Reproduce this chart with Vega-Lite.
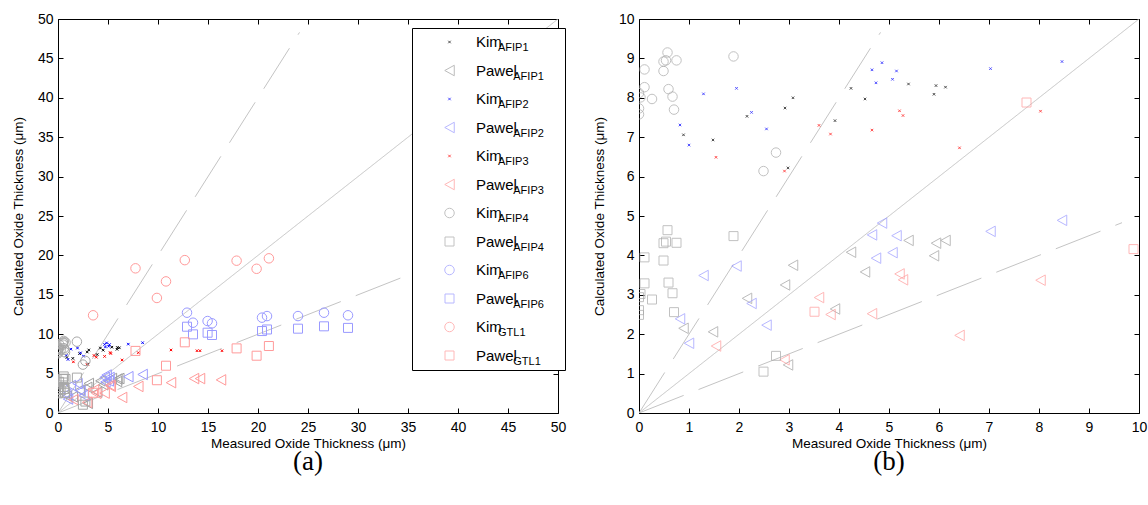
{
  "$schema": "https://vega.github.io/schema/vega-lite/v6.json",
  "padding": {"left": 11, "top": 12, "right": 5, "bottom": 5},
  "config": {
    "font": "Liberation Sans",
    "view": {"stroke": null},
    "axis": {"grid": false, "domainColor": "#000", "tickColor": "#000", "tickSize": -5, "labelFontSize": 14, "labelColor": "#000", "labelFont": "Liberation Sans", "titleFont": "Liberation Sans", "titleFontSize": 13.5, "titleFontWeight": "normal", "titleColor": "#000", "labelFlush": false, "labelOverlap": false},
    "axisX": {"labelPadding": 12, "titlePadding": 2},
    "axisY": {"labelPadding": 10, "titlePadding": 12},
    "title": {"font": "Liberation Serif", "fontSize": 27, "fontWeight": "normal", "color": "#000"}
  },
  "datasets": {
    "pts": [
      {"series": "AFIP1 Kim", "x": 0.89, "y": 7.06}, {"series": "AFIP1 Kim", "x": 1.48, "y": 6.93}, {"series": "AFIP1 Kim", "x": 2.16, "y": 7.53}, {"series": "AFIP1 Kim", "x": 2.92, "y": 7.74}, {"series": "AFIP1 Kim", "x": 3.08, "y": 8.0}, {"series": "AFIP1 Kim", "x": 2.98, "y": 6.22}, {"series": "AFIP1 Kim", "x": 3.92, "y": 7.42}, {"series": "AFIP1 Kim", "x": 4.24, "y": 8.24}, {"series": "AFIP1 Kim", "x": 4.52, "y": 7.97}, {"series": "AFIP1 Kim", "x": 5.39, "y": 8.35}, {"series": "AFIP1 Kim", "x": 5.94, "y": 8.31}, {"series": "AFIP1 Kim", "x": 5.9, "y": 8.09}, {"series": "AFIP1 Kim", "x": 6.13, "y": 8.27},
      {"series": "AFIP1 Pawel", "x": 0.89, "y": 2.15}, {"series": "AFIP1 Pawel", "x": 1.48, "y": 2.06}, {"series": "AFIP1 Pawel", "x": 2.16, "y": 2.91}, {"series": "AFIP1 Pawel", "x": 2.92, "y": 3.25}, {"series": "AFIP1 Pawel", "x": 3.08, "y": 3.75}, {"series": "AFIP1 Pawel", "x": 2.98, "y": 1.22}, {"series": "AFIP1 Pawel", "x": 3.92, "y": 2.64}, {"series": "AFIP1 Pawel", "x": 4.24, "y": 4.08}, {"series": "AFIP1 Pawel", "x": 4.52, "y": 3.58}, {"series": "AFIP1 Pawel", "x": 5.39, "y": 4.38}, {"series": "AFIP1 Pawel", "x": 5.94, "y": 4.31}, {"series": "AFIP1 Pawel", "x": 5.9, "y": 3.99}, {"series": "AFIP1 Pawel", "x": 6.13, "y": 4.38},
      {"series": "AFIP2 Kim", "x": 0.82, "y": 7.31}, {"series": "AFIP2 Kim", "x": 1.0, "y": 6.8}, {"series": "AFIP2 Kim", "x": 1.29, "y": 8.1}, {"series": "AFIP2 Kim", "x": 1.95, "y": 8.24}, {"series": "AFIP2 Kim", "x": 2.25, "y": 7.63}, {"series": "AFIP2 Kim", "x": 2.55, "y": 7.21}, {"series": "AFIP2 Kim", "x": 4.66, "y": 8.71}, {"series": "AFIP2 Kim", "x": 4.86, "y": 8.89}, {"series": "AFIP2 Kim", "x": 4.74, "y": 8.38}, {"series": "AFIP2 Kim", "x": 5.15, "y": 8.68}, {"series": "AFIP2 Kim", "x": 5.07, "y": 8.47}, {"series": "AFIP2 Kim", "x": 7.03, "y": 8.74}, {"series": "AFIP2 Kim", "x": 8.46, "y": 8.92},
      {"series": "AFIP2 Pawel", "x": 0.82, "y": 2.39}, {"series": "AFIP2 Pawel", "x": 1.0, "y": 1.77}, {"series": "AFIP2 Pawel", "x": 1.29, "y": 3.49}, {"series": "AFIP2 Pawel", "x": 1.95, "y": 3.73}, {"series": "AFIP2 Pawel", "x": 2.25, "y": 2.78}, {"series": "AFIP2 Pawel", "x": 2.55, "y": 2.23}, {"series": "AFIP2 Pawel", "x": 4.66, "y": 4.52}, {"series": "AFIP2 Pawel", "x": 4.86, "y": 4.82}, {"series": "AFIP2 Pawel", "x": 4.74, "y": 3.93}, {"series": "AFIP2 Pawel", "x": 5.15, "y": 4.5}, {"series": "AFIP2 Pawel", "x": 5.07, "y": 4.07}, {"series": "AFIP2 Pawel", "x": 7.03, "y": 4.61}, {"series": "AFIP2 Pawel", "x": 8.46, "y": 4.89},
      {"series": "AFIP3 Kim", "x": 1.54, "y": 6.49}, {"series": "AFIP3 Kim", "x": 2.91, "y": 6.14}, {"series": "AFIP3 Kim", "x": 3.6, "y": 7.3}, {"series": "AFIP3 Kim", "x": 3.83, "y": 7.08}, {"series": "AFIP3 Kim", "x": 4.66, "y": 7.18}, {"series": "AFIP3 Kim", "x": 5.21, "y": 7.67}, {"series": "AFIP3 Kim", "x": 5.28, "y": 7.55}, {"series": "AFIP3 Kim", "x": 6.41, "y": 6.73}, {"series": "AFIP3 Kim", "x": 8.03, "y": 7.66}, {"series": "AFIP3 Kim", "x": 11.3, "y": 8.0}, {"series": "AFIP3 Kim", "x": 13.9, "y": 7.9}, {"series": "AFIP3 Kim", "x": 14.2, "y": 7.9}, {"series": "AFIP3 Kim", "x": 16.4, "y": 7.9},
      {"series": "AFIP3 Pawel", "x": 1.54, "y": 1.7}, {"series": "AFIP3 Pawel", "x": 2.91, "y": 1.35}, {"series": "AFIP3 Pawel", "x": 3.6, "y": 2.93}, {"series": "AFIP3 Pawel", "x": 3.83, "y": 2.5}, {"series": "AFIP3 Pawel", "x": 4.66, "y": 2.52}, {"series": "AFIP3 Pawel", "x": 5.21, "y": 3.53}, {"series": "AFIP3 Pawel", "x": 5.28, "y": 3.38}, {"series": "AFIP3 Pawel", "x": 6.41, "y": 1.97}, {"series": "AFIP3 Pawel", "x": 8.03, "y": 3.37}, {"series": "AFIP3 Pawel", "x": 11.3, "y": 3.85}, {"series": "AFIP3 Pawel", "x": 13.6, "y": 4.37}, {"series": "AFIP3 Pawel", "x": 14.2, "y": 4.37}, {"series": "AFIP3 Pawel", "x": 16.3, "y": 4.2},
      {"series": "AFIP4 Kim", "x": 0.0, "y": 7.58}, {"series": "AFIP4 Kim", "x": 0.0, "y": 7.73}, {"series": "AFIP4 Kim", "x": 0.0, "y": 8.12}, {"series": "AFIP4 Kim", "x": 0.03, "y": 8.01}, {"series": "AFIP4 Kim", "x": 0.11, "y": 8.27}, {"series": "AFIP4 Kim", "x": 0.11, "y": 8.72}, {"series": "AFIP4 Kim", "x": 0.26, "y": 7.97}, {"series": "AFIP4 Kim", "x": 0.49, "y": 8.68}, {"series": "AFIP4 Kim", "x": 0.49, "y": 8.92}, {"series": "AFIP4 Kim", "x": 0.54, "y": 8.95}, {"series": "AFIP4 Kim", "x": 0.57, "y": 9.15}, {"series": "AFIP4 Kim", "x": 0.75, "y": 8.95}, {"series": "AFIP4 Kim", "x": 0.59, "y": 8.22}, {"series": "AFIP4 Kim", "x": 0.67, "y": 8.03}, {"series": "AFIP4 Kim", "x": 0.7, "y": 7.7}, {"series": "AFIP4 Kim", "x": 1.89, "y": 9.05}, {"series": "AFIP4 Kim", "x": 2.74, "y": 6.61}, {"series": "AFIP4 Kim", "x": 2.49, "y": 6.14},
      {"series": "AFIP4 Pawel", "x": 0.0, "y": 2.49}, {"series": "AFIP4 Pawel", "x": 0.0, "y": 2.61}, {"series": "AFIP4 Pawel", "x": 0.0, "y": 2.94}, {"series": "AFIP4 Pawel", "x": 0.03, "y": 3.02}, {"series": "AFIP4 Pawel", "x": 0.11, "y": 3.29}, {"series": "AFIP4 Pawel", "x": 0.11, "y": 3.95}, {"series": "AFIP4 Pawel", "x": 0.26, "y": 2.88}, {"series": "AFIP4 Pawel", "x": 0.49, "y": 3.87}, {"series": "AFIP4 Pawel", "x": 0.49, "y": 4.31}, {"series": "AFIP4 Pawel", "x": 0.54, "y": 4.35}, {"series": "AFIP4 Pawel", "x": 0.57, "y": 4.64}, {"series": "AFIP4 Pawel", "x": 0.75, "y": 4.32}, {"series": "AFIP4 Pawel", "x": 0.59, "y": 3.31}, {"series": "AFIP4 Pawel", "x": 0.67, "y": 3.04}, {"series": "AFIP4 Pawel", "x": 0.7, "y": 2.56}, {"series": "AFIP4 Pawel", "x": 1.89, "y": 4.49}, {"series": "AFIP4 Pawel", "x": 2.74, "y": 1.45}, {"series": "AFIP4 Pawel", "x": 2.49, "y": 1.05},
      {"series": "AFIP6 Kim", "x": 12.9, "y": 12.73}, {"series": "AFIP6 Kim", "x": 13.5, "y": 11.46}, {"series": "AFIP6 Kim", "x": 14.96, "y": 11.67}, {"series": "AFIP6 Kim", "x": 15.4, "y": 11.38}, {"series": "AFIP6 Kim", "x": 20.4, "y": 12.1}, {"series": "AFIP6 Kim", "x": 20.9, "y": 12.3}, {"series": "AFIP6 Kim", "x": 24.0, "y": 12.3}, {"series": "AFIP6 Kim", "x": 26.6, "y": 12.73}, {"series": "AFIP6 Kim", "x": 29.0, "y": 12.4},
      {"series": "AFIP6 Pawel", "x": 12.9, "y": 10.95}, {"series": "AFIP6 Pawel", "x": 13.5, "y": 9.98}, {"series": "AFIP6 Pawel", "x": 14.96, "y": 10.19}, {"series": "AFIP6 Pawel", "x": 15.4, "y": 9.9}, {"series": "AFIP6 Pawel", "x": 20.4, "y": 10.4}, {"series": "AFIP6 Pawel", "x": 20.9, "y": 10.6}, {"series": "AFIP6 Pawel", "x": 24.0, "y": 10.7}, {"series": "AFIP6 Pawel", "x": 26.6, "y": 11.0}, {"series": "AFIP6 Pawel", "x": 29.0, "y": 10.8},
      {"series": "GTL1 Kim", "x": 3.51, "y": 12.4}, {"series": "GTL1 Kim", "x": 7.75, "y": 18.36}, {"series": "GTL1 Kim", "x": 9.89, "y": 14.6}, {"series": "GTL1 Kim", "x": 10.8, "y": 16.7}, {"series": "GTL1 Kim", "x": 12.68, "y": 19.4}, {"series": "GTL1 Kim", "x": 17.86, "y": 19.33}, {"series": "GTL1 Kim", "x": 19.86, "y": 18.3}, {"series": "GTL1 Kim", "x": 21.09, "y": 19.63},
      {"series": "GTL1 Pawel", "x": 3.51, "y": 2.57}, {"series": "GTL1 Pawel", "x": 7.75, "y": 7.88}, {"series": "GTL1 Pawel", "x": 9.89, "y": 4.16}, {"series": "GTL1 Pawel", "x": 10.8, "y": 6.0}, {"series": "GTL1 Pawel", "x": 12.68, "y": 8.97}, {"series": "GTL1 Pawel", "x": 17.86, "y": 8.2}, {"series": "GTL1 Pawel", "x": 19.86, "y": 7.27}, {"series": "GTL1 Pawel", "x": 21.09, "y": 8.5}
    ],
    "lines": [
      {"panel": "a", "line": "1:1", "x": 0, "y": 0}, {"panel": "a", "line": "1:1", "x": 50, "y": 50},
      {"panel": "a", "line": "2x", "x": 0, "y": 0}, {"panel": "a", "line": "2x", "x": 24.15, "y": 48.3},
      {"panel": "a", "line": "0.5x", "x": 0, "y": 0}, {"panel": "a", "line": "0.5x", "x": 48.3, "y": 24.15},
      {"panel": "b", "line": "1:1", "x": 0, "y": 0}, {"panel": "b", "line": "1:1", "x": 10, "y": 10},
      {"panel": "b", "line": "2x", "x": 0, "y": 0}, {"panel": "b", "line": "2x", "x": 4.83, "y": 9.66},
      {"panel": "b", "line": "0.5x", "x": 0, "y": 0}, {"panel": "b", "line": "0.5x", "x": 9.66, "y": 4.83}
    ]
  },
  "spacing": 26,
  "resolve": {"legend": {"color": "independent", "shape": "independent", "opacity": "independent"}},
  "hconcat": [
    {
      "width": 500, "height": 394,
      "title": {"text": "(a)", "orient": "bottom", "anchor": "middle", "offset": -1},
      "resolve": {"axis": {"x": "independent", "y": "independent"}},
      "layer": [
        {
          "data": {"name": "lines"},
          "transform": [{"filter": "datum.panel == 'a'"}],
          "mark": {"type": "line", "color": "#c4c4c4", "strokeWidth": 1, "clip": true},
          "encoding": {
            "x": {"field": "x", "type": "quantitative", "scale": {"domain": [0, 50], "nice": false, "zero": false}, "axis": {"orient": "bottom", "values": [0, 5, 10, 15, 20, 25, 30, 35, 40, 45, 50], "title": "Measured Oxide Thickness (μm)"}},
            "y": {"field": "y", "type": "quantitative", "scale": {"domain": [0, 50], "nice": false, "zero": false}, "axis": {"orient": "left", "values": [0, 5, 10, 15, 20, 25, 30, 35, 40, 45, 50], "title": "Calculated Oxide Thickness (μm)"}},
            "detail": {"field": "line", "type": "nominal"},
            "strokeDash": {"field": "line", "type": "nominal", "scale": {"domain": ["1:1", "2x", "0.5x"], "range": [[1, 0], [48, 16], [48, 16]]}, "legend": null}
          }
        },
        {
          "data": {"name": "pts"},
          "mark": {"type": "point", "filled": false, "size": 100, "strokeWidth": 1, "clip": true},
          "encoding": {
            "x": {"field": "x", "type": "quantitative", "scale": {"domain": [0, 50], "nice": false, "zero": false}, "axis": {"orient": "top", "values": [0, 5, 10, 15, 20, 25, 30, 35, 40, 45, 50], "labels": false, "title": null}},
            "y": {"field": "y", "type": "quantitative", "scale": {"domain": [0, 50], "nice": false, "zero": false}, "axis": {"orient": "right", "values": [0, 5, 10, 15, 20, 25, 30, 35, 40, 45, 50], "labels": false, "title": null}},
            "color": {"field": "series", "type": "nominal",
              "scale": {"range": ["#000000", "#a0a0a0", "#0000ff", "#9a9aff", "#ff0000", "#ff9a9a", "#a8a8a8", "#a8a8a8", "#9a9aff", "#9a9aff", "#ff9a9a", "#ff9a9a"]},
              "legend": {"orient": "none", "legendX": 354, "legendY": 9, "title": null, "fillColor": "#ffffff", "strokeColor": "#000000", "padding": 6, "symbolOffset": 24, "labelOffset": 19, "labelFontSize": 15, "labelFont": "Liberation Sans", "labelColor": "#000", "clipHeight": 16, "rowPadding": 12.5, "symbolStrokeWidth": 1, "symbolSize": 100, "labelLimit": 300,
                "labelExpr": "split(datum.label, ' ')[1] + '\u00a0\u00a0\u00a0\u00a0\u00a0\u00a0\u00a0\u00a0\u00a0\u00a0\u200b'"}},
            "shape": {"field": "series", "type": "nominal",
              "scale": {"range": ["M-0.25,-0.25L0.25,0.25M0.25,-0.25L-0.25,0.25", "M-0.95,0L0.95,-1.05L0.95,1.05Z", "M-0.25,-0.25L0.25,0.25M0.25,-0.25L-0.25,0.25", "M-0.95,0L0.95,-1.05L0.95,1.05Z", "M-0.25,-0.25L0.25,0.25M0.25,-0.25L-0.25,0.25", "M-0.95,0L0.95,-1.05L0.95,1.05Z", "M0.95,0A0.95,0.95,0,1,1,-0.95,0A0.95,0.95,0,1,1,0.95,0Z", "M-0.9,-0.9H0.9V0.9H-0.9Z", "M0.95,0A0.95,0.95,0,1,1,-0.95,0A0.95,0.95,0,1,1,0.95,0Z", "M-0.9,-0.9H0.9V0.9H-0.9Z", "M0.95,0A0.95,0.95,0,1,1,-0.95,0A0.95,0.95,0,1,1,0.95,0Z", "M-0.9,-0.9H0.9V0.9H-0.9Z"]}},
            "opacity": {"field": "series", "type": "nominal",
              "scale": {"domain": ["AFIP1 Kim", "AFIP1 Pawel", "AFIP2 Kim", "AFIP2 Pawel", "AFIP3 Kim", "AFIP3 Pawel", "AFIP4 Kim", "AFIP4 Pawel", "AFIP6 Kim", "AFIP6 Pawel", "GTL1 Kim", "GTL1 Pawel"], "range": [1]},
              "legend": {"orient": "none", "legendX": 380, "legendY": 15, "title": null, "padding": 6, "symbolOffset": 24, "labelOffset": 19, "labelFontSize": 11, "labelFont": "Liberation Sans", "labelColor": "#000", "clipHeight": 16, "rowPadding": 12.5, "symbolOpacity": 0, "symbolStrokeWidth": 0, "symbolSize": 100, "labelLimit": 300,
                "labelExpr": "(split(datum.label, ' ')[1] == 'Pawel' ? '\u200b\u00a0\u00a0\u00a0\u00a0\u00a0' : '') + split(datum.label, ' ')[0]"}}
          }
        }
      ]
    },
    {
      "width": 500, "height": 394,
      "title": {"text": "(b)", "orient": "bottom", "anchor": "middle", "offset": -1},
      "resolve": {"axis": {"x": "independent", "y": "independent"}},
      "layer": [
        {
          "data": {"name": "lines"},
          "transform": [{"filter": "datum.panel == 'b'"}],
          "mark": {"type": "line", "color": "#c4c4c4", "strokeWidth": 1, "clip": true},
          "encoding": {
            "x": {"field": "x", "type": "quantitative", "scale": {"domain": [0, 10], "nice": false, "zero": false}, "axis": {"orient": "bottom", "values": [0, 1, 2, 3, 4, 5, 6, 7, 8, 9, 10], "title": "Measured Oxide Thickness (μm)"}},
            "y": {"field": "y", "type": "quantitative", "scale": {"domain": [0, 10], "nice": false, "zero": false}, "axis": {"orient": "left", "values": [0, 1, 2, 3, 4, 5, 6, 7, 8, 9, 10], "title": "Calculated Oxide Thickness (μm)"}},
            "detail": {"field": "line", "type": "nominal"},
            "strokeDash": {"field": "line", "type": "nominal", "scale": {"domain": ["1:1", "2x", "0.5x"], "range": [[1, 0], [48, 16], [48, 16]]}, "legend": null}
          }
        },
        {
          "data": {"name": "pts"},
          "mark": {"type": "point", "filled": false, "size": 100, "strokeWidth": 1, "clip": true},
          "encoding": {
            "x": {"field": "x", "type": "quantitative", "scale": {"domain": [0, 10], "nice": false, "zero": false}, "axis": {"orient": "top", "values": [0, 1, 2, 3, 4, 5, 6, 7, 8, 9, 10], "labels": false, "title": null}},
            "y": {"field": "y", "type": "quantitative", "scale": {"domain": [0, 10], "nice": false, "zero": false}, "axis": {"orient": "right", "values": [0, 1, 2, 3, 4, 5, 6, 7, 8, 9, 10], "labels": false, "title": null}},
            "color": {"field": "series", "type": "nominal", "legend": null},
            "shape": {"field": "series", "type": "nominal", "legend": null}
          }
        }
      ]
    }
  ]
}
